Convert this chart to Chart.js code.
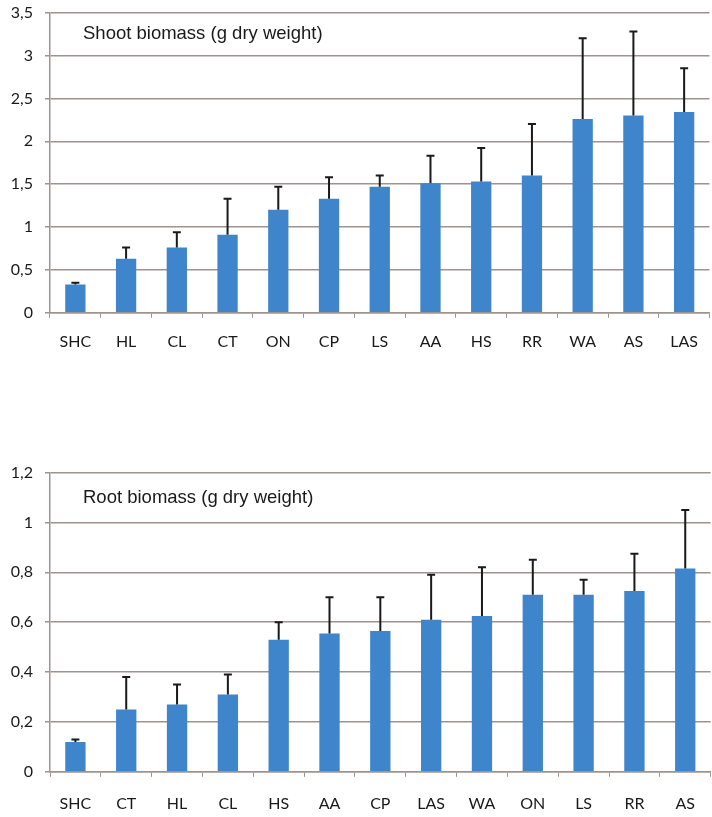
<!DOCTYPE html>
<html>
<head>
<meta charset="utf-8">
<script src="https://cdn.jsdelivr.net/npm/chart.js@4"></script>
<style>
  html, body { margin: 0; padding: 0; background: #fff; }
  body { width: 712px; height: 817px; position: relative; overflow: hidden; }
  .box { position: absolute; left: 0; width: 712px; }
  #topBox { top: -9px; height: 374px; }
  #bottomBox { top: 451px; height: 379px; }
</style>
</head>
<body>
<div class="box" id="topBox"><canvas id="shoot"></canvas></div>
<div class="box" id="bottomBox"><canvas id="root"></canvas></div>
<script>
// shoot biomass (sorted as in the figure)
const shootLabels = ["SHC", "HL", "CL", "CT", "ON", "CP", "LS", "AA", "HS", "RR", "WA", "AS", "LAS"];
const shootMeans = [0.33, 0.63, 0.76, 0.91, 1.2, 1.33, 1.47, 1.51, 1.53, 1.6, 2.26, 2.3, 2.34];
const shootUpper = [0.35, 0.76, 0.94, 1.33, 1.47, 1.58, 1.6, 1.83, 1.92, 2.2, 3.2, 3.28, 2.85];

// root biomass
const rootLabels = ["SHC", "CT", "HL", "CL", "HS", "AA", "CP", "LAS", "WA", "ON", "LS", "RR", "AS"];
const rootMeans = [0.12, 0.25, 0.27, 0.31, 0.53, 0.555, 0.565, 0.61, 0.625, 0.71, 0.71, 0.725, 0.815];
const rootUpper = [0.13, 0.38, 0.35, 0.39, 0.6, 0.7, 0.7, 0.79, 0.82, 0.85, 0.77, 0.875, 1.05];

const BAR = "#3f85cb";
const GRID = "#9e948f";
const TEXT = "#1a1a1a";

// upper error whiskers, drawn from the bar scale
const whiskers = {
  id: "whiskers",
  afterDatasetsDraw(chart) {
    const upper = chart.options.plugins.whiskers.upper;
    const meta = chart.getDatasetMeta(0);
    const y = chart.scales.y;
    const ctx = chart.ctx;
    ctx.save();
    ctx.strokeStyle = "#1a1a1a";
    ctx.lineWidth = 2;
    meta.data.forEach((bar, i) => {
      const yTop = y.getPixelForValue(upper[i]);
      ctx.beginPath();
      ctx.moveTo(bar.x, bar.y);
      ctx.lineTo(bar.x, yTop);
      ctx.moveTo(bar.x - 4, yTop);
      ctx.lineTo(bar.x + 4, yTop);
      ctx.stroke();
    });
    ctx.restore();
  }
};

// title written inside the plot area
const innerTitle = {
  id: "innerTitle",
  afterDraw(chart) {
    const o = chart.options.plugins.innerTitle;
    const ctx = chart.ctx;
    ctx.save();
    ctx.font = '18.5px "Liberation Sans", Arial, sans-serif';
    ctx.fillStyle = TEXT;
    ctx.textBaseline = "middle";
    ctx.fillText(o.text, chart.chartArea.left + 33, chart.chartArea.top + o.dy);
    ctx.restore();
  }
};

function makeChart(id, labels, means, upper, max, step, title, dy, xPad) {
  return new Chart(document.getElementById(id), {
    type: "bar",
    data: {
      labels: labels,
      datasets: [{ data: means, backgroundColor: BAR, barPercentage: 0.4, categoryPercentage: 1 }]
    },
    options: {
      responsive: true,
      maintainAspectRatio: false,
      animation: false,
      layout: { padding: { top: 2, right: -3, left: 0, bottom: 0 } },
      plugins: {
        legend: { display: false },
        tooltip: { enabled: false },
        whiskers: { upper: upper },
        innerTitle: { text: title, dy: dy }
      },
      scales: {
        x: {
          grid: { drawOnChartArea: false, color: GRID, tickLength: 5 },
          border: { color: GRID, width: 1.5 },
          ticks: { color: TEXT, padding: xPad, font: { family: "Lato", size: 16 } }
        },
        y: {
          min: 0,
          max: max,
          afterFit: s => { s.width = 50; },
          grid: { color: GRID, lineWidth: 1.5, tickLength: 5 },
          border: { color: GRID, width: 1.5 },
          ticks: {
            stepSize: step,
            color: TEXT,
            padding: 12,
            font: { family: "Lato", size: 16 },
            callback: v => String(Math.round(v * 10) / 10).replace(".", ",")
          }
        }
      }
    },
    plugins: [whiskers, innerTitle]
  });
}

makeChart("shoot", shootLabels, shootMeans, shootUpper, 3.5, 0.5, "Shoot biomass (g dry weight)", 21, 14);
makeChart("root", rootLabels, rootMeans, rootUpper, 1.2, 0.2, "Root biomass (g dry weight)", 25, 17);
</script>
</body>
</html>
